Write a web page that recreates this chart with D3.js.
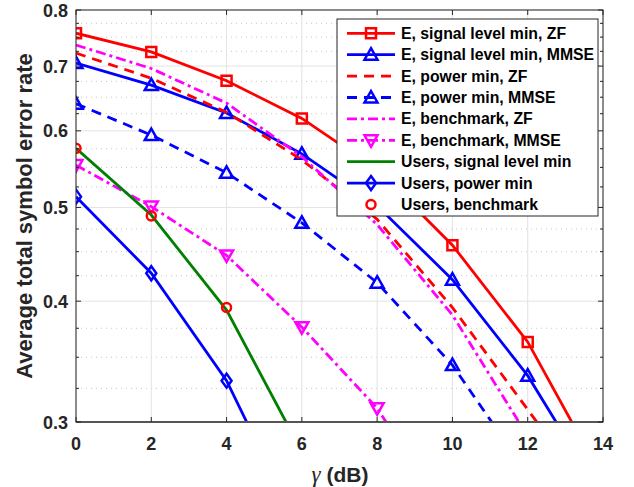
<!DOCTYPE html>
<html><head><meta charset="utf-8">
<script src="https://cdn.jsdelivr.net/npm/d3@7"></script>
<style>body{margin:0;background:#fff;} svg{display:block;}</style>
</head><body>
<svg id="chart" width="634" height="487"></svg>
<script>
const xValues = [0, 2, 4, 6, 8, 10, 12, 14];
const xTicks = [0, 2, 4, 6, 8, 10, 12, 14];
const yTicks = [0.3, 0.4, 0.5, 0.6, 0.7, 0.8];
const yMinorTicks = [0.325,0.35,0.375,0.425,0.45,0.475,0.525,0.55,0.575,0.625,0.65,0.675,0.725,0.75,0.775];

const seriesNames = [
  "E, signal level min, ZF",
  "E, signal level min, MMSE",
  "E, power min, ZF",
  "E, power min, MMSE",
  "E, benchmark, ZF",
  "E, benchmark, MMSE",
  "Users, signal level min",
  "Users, power min",
  "Users, benchmark"
];
const eSigZF     = [0.757, 0.724, 0.676, 0.618, 0.547, 0.457, 0.363, 0.262];
const eSigMMSE   = [0.705, 0.669, 0.626, 0.568, 0.502, 0.421, 0.335, 0.250];
const ePowZF     = [0.722, 0.680, 0.627, 0.560, 0.486, 0.394, 0.309, 0.242];
const ePowMMSE   = [0.640, 0.594, 0.543, 0.482, 0.418, 0.3435, 0.265];
const eBenchZF   = [0.736, 0.696, 0.641, 0.564, 0.480, 0.387, 0.290];
const eBenchMMSE = [0.553, 0.501, 0.446, 0.376, 0.310, 0.235];
const usersSig   = [0.5755, 0.491, 0.3916, 0.2795];
const usersPow   = [0.513, 0.4275, 0.331, 0.229];
const usersBench = [0.5755, 0.490, 0.394];

const styles = [
  {data: eSigZF,     color: "#ff0000", dash: null,          marker: "square",  line: true},
  {data: eSigMMSE,   color: "#0000ff", dash: null,          marker: "triUp",   line: true},
  {data: ePowZF,     color: "#ff0000", dash: "10,7",        marker: null,      line: true},
  {data: ePowMMSE,   color: "#0000ff", dash: "10,7",        marker: "triUp",   line: true},
  {data: eBenchZF,   color: "#ff00ff", dash: "10,4,3,4",    marker: null,      line: true},
  {data: eBenchMMSE, color: "#ff00ff", dash: "10,4,3,4",    marker: "triDown", line: true},
  {data: usersSig,   color: "#008000", dash: null,          marker: null,      line: true},
  {data: usersPow,   color: "#0000ff", dash: null,          marker: "diamond", line: true},
  {data: usersBench, color: "#ff0000", dash: null,          marker: "circle",  line: false}
];

const svg = d3.select("#chart");
const L = 76, R = 603, T = 10, B = 422;
const x = d3.scaleLinear().domain([0, 14]).range([L, R]);
const y = d3.scaleLog().domain([0.3, 0.8]).range([B, T]);
const axisColor = "#262626";

svg.append("rect").attr("x", L).attr("y", T).attr("width", R - L).attr("height", B - T).attr("fill", "#fff");

// grid
const grid = svg.append("g");
grid.selectAll(".ym").data(yMinorTicks).join("line")
  .attr("x1", L).attr("x2", R).attr("y1", d => y(d)).attr("y2", d => y(d))
  .attr("stroke", "#c8c8c8").attr("stroke-width", 1).attr("stroke-dasharray", "1,4");
grid.selectAll(".yg").data(yTicks).join("line")
  .attr("x1", L).attr("x2", R).attr("y1", d => y(d)).attr("y2", d => y(d))
  .attr("stroke", "#e3e3e3").attr("stroke-width", 1);
grid.selectAll(".xg").data(xTicks).join("line")
  .attr("x1", d => x(d)).attr("x2", d => x(d)).attr("y1", T).attr("y2", B)
  .attr("stroke", "#e3e3e3").attr("stroke-width", 1);

// clip
svg.append("clipPath").attr("id", "clip").append("rect")
  .attr("x", L).attr("y", T).attr("width", R - L).attr("height", B - T);

const plot = svg.append("g").attr("clip-path", "url(#clip)");
const lineGen = d3.line().x(d => x(d.x)).y(d => y(d.y));

function markerPath(type) {
  switch (type) {
    case "square": return "M-5,-5L5,-5L5,5L-5,5Z";
    case "triUp": return "M0,-6.5L6.5,5L-6.5,5Z";
    case "triDown": return "M0,6.5L6.5,-5L-6.5,-5Z";
    case "diamond": return "M0,-7L5,0L0,7L-5,0Z";
    default: return null;
  }
}
function drawMarker(g, type, cx, cy, color) {
  if (type === "circle") {
    g.append("circle").attr("cx", cx).attr("cy", cy).attr("r", 4.5)
      .attr("fill", "none").attr("stroke", color).attr("stroke-width", 2.5);
  } else {
    g.append("path").attr("d", markerPath(type)).attr("transform", `translate(${cx},${cy})`)
      .attr("fill", "none").attr("stroke", color).attr("stroke-width", 2.5).attr("stroke-linejoin", "miter");
  }
}

styles.forEach(s => {
  const pts = s.data.map((v, i) => ({x: xValues[i], y: v}));
  if (s.line) {
    plot.append("path").datum(pts).attr("d", lineGen)
      .attr("fill", "none").attr("stroke", s.color).attr("stroke-width", 2.8)
      .attr("stroke-dasharray", s.dash);
  }
  if (s.marker) {
    pts.filter(p => p.y >= 0.3).forEach(p => drawMarker(plot, s.marker, x(p.x), y(p.y), s.color));
  }
});

// axes box
const ax = svg.append("g");
ax.append("rect").attr("x", L).attr("y", T).attr("width", R - L).attr("height", B - T)
  .attr("fill", "none").attr("stroke", axisColor).attr("stroke-width", 1);
ax.append("line").attr("x1", L).attr("x2", R).attr("y1", B).attr("y2", B)
  .attr("stroke", "#555").attr("stroke-width", 2);

// ticks
xTicks.forEach(t => {
  ax.append("line").attr("x1", x(t)).attr("x2", x(t)).attr("y1", B).attr("y2", B - 5).attr("stroke", axisColor);
  ax.append("line").attr("x1", x(t)).attr("x2", x(t)).attr("y1", T).attr("y2", T + 5).attr("stroke", axisColor);
});
yTicks.forEach(t => {
  ax.append("line").attr("x1", L).attr("x2", L + 5).attr("y1", y(t)).attr("y2", y(t)).attr("stroke", axisColor);
  ax.append("line").attr("x1", R).attr("x2", R - 5).attr("y1", y(t)).attr("y2", y(t)).attr("stroke", axisColor);
});
yMinorTicks.forEach(t => {
  ax.append("line").attr("x1", L).attr("x2", L + 3).attr("y1", y(t)).attr("y2", y(t)).attr("stroke", axisColor);
  ax.append("line").attr("x1", R).attr("x2", R - 3).attr("y1", y(t)).attr("y2", y(t)).attr("stroke", axisColor);
});

const font = "'Liberation Sans', Arial, Helvetica, sans-serif";
// tick labels
svg.append("g").selectAll("text").data(xTicks).join("text")
  .attr("x", d => x(d)).attr("y", 450).attr("text-anchor", "middle")
  .attr("font-family", font).attr("font-weight", "bold").attr("font-size", 18)
  .attr("fill", axisColor).text(d => d);
svg.append("g").selectAll("text").data(yTicks).join("text")
  .attr("x", 68).attr("y", d => y(d) + 6.5).attr("text-anchor", "end")
  .attr("font-family", font).attr("font-weight", "bold").attr("font-size", 18)
  .attr("fill", axisColor).text(d => d.toFixed(1));

// axis labels
const xl = svg.append("text").attr("x", 340).attr("y", 482).attr("text-anchor", "middle")
  .attr("fill", axisColor).attr("font-size", 21);
xl.append("tspan").attr("font-family", "'Liberation Serif', 'Times New Roman', serif").attr("font-style", "italic").attr("font-size", 23).text("γ");
xl.append("tspan").attr("font-family", font).attr("font-weight", "bold").text(" (dB)");

svg.append("text").attr("transform", `translate(32,${(T + B) / 2}) rotate(-90)`)
  .attr("text-anchor", "middle").attr("font-family", font).attr("font-weight", "bold")
  .attr("font-size", 22).attr("fill", axisColor).text("Average total symbol error rate");

// legend
const lg = svg.append("g");
lg.append("rect").attr("x", 337).attr("y", 19).attr("width", 261).attr("height", 197)
  .attr("fill", "#fff").attr("stroke", axisColor).attr("stroke-width", 1);
styles.forEach((s, i) => {
  const cy = 33.3 + i * 21.4;
  if (s.line) {
    lg.append("line").attr("x1", 347).attr("x2", 395).attr("y1", cy).attr("y2", cy)
      .attr("stroke", s.color).attr("stroke-width", 2.8).attr("stroke-dasharray", s.dash);
  }
  if (s.marker) drawMarker(lg, s.marker, 371, cy, s.color);
  lg.append("text").attr("x", 401).attr("y", cy + 5.5)
    .attr("font-family", font).attr("font-weight", "bold").attr("font-size", 15.8)
    .attr("fill", "#000").text(seriesNames[i]);
});
</script>
</body></html>
